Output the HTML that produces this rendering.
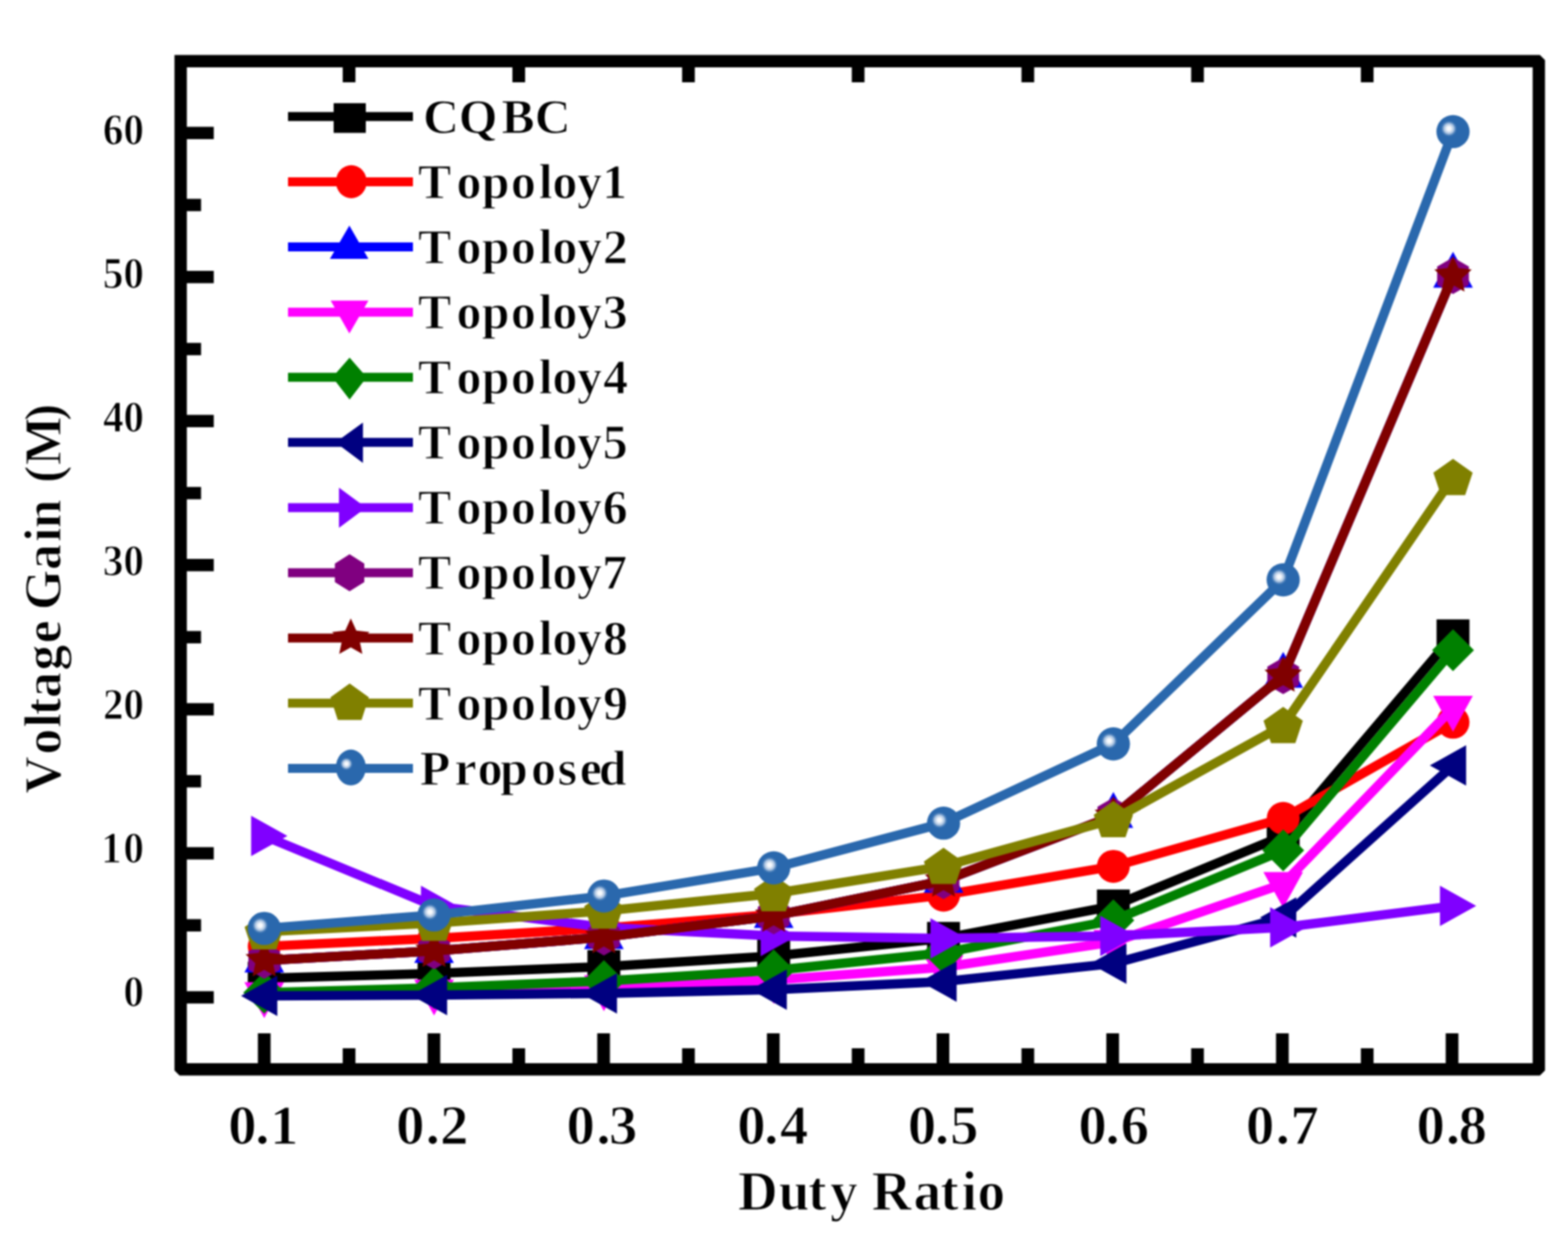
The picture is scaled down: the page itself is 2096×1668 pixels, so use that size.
<!DOCTYPE html>
<html><head><meta charset="utf-8"><title>Voltage Gain vs Duty Ratio</title>
<style>html,body{margin:0;padding:0;background:#fff;overflow:hidden;} svg{display:block;} #w{filter:blur(0.8px);width:2096px;height:1668px;} text{font-kerning:none;}</style>
</head><body>
<div id="w"><svg width="2096" height="1668" viewBox="0 0 2096 1668">
<defs><radialGradient id="hl"><stop offset="0" stop-color="#ffffff"/><stop offset="0.25" stop-color="#f2f6fb"/><stop offset="0.6" stop-color="#b9cde6" stop-opacity="0.85"/><stop offset="1" stop-color="#2A68AD" stop-opacity="0"/></radialGradient></defs>
<rect width="2096" height="1668" fill="#fff"/>
<polyline points="353.2,1307.43 580.21,1301.11 807.23,1291.9 1034.24,1277.71 1261.26,1254.18 1488.27,1210.86 1715.29,1117.26 1942.3,849.82" fill="none" stroke="#000000" stroke-width="12.5" stroke-linejoin="round"/>
<rect x="331.2" y="1285.43" width="44" height="44" fill="#000000"/>
<rect x="558.21" y="1279.11" width="44" height="44" fill="#000000"/>
<rect x="785.23" y="1269.9" width="44" height="44" fill="#000000"/>
<rect x="1012.24" y="1255.71" width="44" height="44" fill="#000000"/>
<rect x="1239.26" y="1232.18" width="44" height="44" fill="#000000"/>
<rect x="1466.27" y="1188.86" width="44" height="44" fill="#000000"/>
<rect x="1693.29" y="1095.26" width="44" height="44" fill="#000000"/>
<rect x="1920.3" y="827.82" width="44" height="44" fill="#000000"/>
<polyline points="353.2,1264.88 580.21,1254.18 807.23,1240.43 1034.24,1222.09 1261.26,1196.41 1488.27,1157.9 1715.29,1093.72 1942.3,965.36" fill="none" stroke="#FF0000" stroke-width="12.5" stroke-linejoin="round"/>
<circle cx="353.2" cy="1264.88" r="22" fill="#FF0000"/>
<circle cx="580.21" cy="1254.18" r="22" fill="#FF0000"/>
<circle cx="807.23" cy="1240.43" r="22" fill="#FF0000"/>
<circle cx="1034.24" cy="1222.09" r="22" fill="#FF0000"/>
<circle cx="1261.26" cy="1196.41" r="22" fill="#FF0000"/>
<circle cx="1488.27" cy="1157.9" r="22" fill="#FF0000"/>
<circle cx="1715.29" cy="1093.72" r="22" fill="#FF0000"/>
<circle cx="1942.3" cy="965.36" r="22" fill="#FF0000"/>
<polyline points="353.2,1283.66 580.21,1271.03 807.23,1252.61 1034.24,1224.23 1261.26,1177.16 1488.27,1090.51 1715.29,903.31 1942.3,368.45" fill="none" stroke="#0000FF" stroke-width="12.5" stroke-linejoin="round"/>
<polygon points="353.2,1251.66 379.7,1299.66 326.7,1299.66" fill="#0000FF"/>
<polygon points="580.21,1239.03 606.71,1287.03 553.71,1287.03" fill="#0000FF"/>
<polygon points="807.23,1220.61 833.73,1268.61 780.73,1268.61" fill="#0000FF"/>
<polygon points="1034.24,1192.23 1060.74,1240.23 1007.74,1240.23" fill="#0000FF"/>
<polygon points="1261.26,1145.16 1287.76,1193.16 1234.76,1193.16" fill="#0000FF"/>
<polygon points="1488.27,1058.51 1514.77,1106.51 1461.77,1106.51" fill="#0000FF"/>
<polygon points="1715.29,871.31 1741.79,919.31 1688.79,919.31" fill="#0000FF"/>
<polygon points="1942.3,336.45 1968.8,384.45 1915.8,384.45" fill="#0000FF"/>
<polyline points="353.2,1328.82 580.21,1325.18 807.23,1319.41 1034.24,1309.81 1261.26,1292.69 1488.27,1258.99 1715.29,1181.44 1942.3,946.1" fill="none" stroke="#FF00FF" stroke-width="12.5" stroke-linejoin="round"/>
<polygon points="353.2,1360.82 379.7,1312.82 326.7,1312.82" fill="#FF00FF"/>
<polygon points="580.21,1357.18 606.71,1309.18 553.71,1309.18" fill="#FF00FF"/>
<polygon points="807.23,1351.41 833.73,1303.41 780.73,1303.41" fill="#FF00FF"/>
<polygon points="1034.24,1341.81 1060.74,1293.81 1007.74,1293.81" fill="#FF00FF"/>
<polygon points="1261.26,1324.69 1287.76,1276.69 1234.76,1276.69" fill="#FF00FF"/>
<polygon points="1488.27,1290.99 1514.77,1242.99 1461.77,1242.99" fill="#FF00FF"/>
<polygon points="1715.29,1213.44 1741.79,1165.44 1688.79,1165.44" fill="#FF00FF"/>
<polygon points="1942.3,978.1 1968.8,930.1 1915.8,930.1" fill="#FF00FF"/>
<polyline points="353.2,1326.68 580.21,1320.37 807.23,1311.16 1034.24,1296.97 1261.26,1273.43 1488.27,1230.11 1715.29,1136.51 1942.3,869.08" fill="none" stroke="#008000" stroke-width="12.5" stroke-linejoin="round"/>
<polygon points="353.2,1298.68 381.2,1326.68 353.2,1354.68 325.2,1326.68" fill="#008000"/>
<polygon points="580.21,1292.37 608.21,1320.37 580.21,1348.37 552.21,1320.37" fill="#008000"/>
<polygon points="807.23,1283.16 835.23,1311.16 807.23,1339.16 779.23,1311.16" fill="#008000"/>
<polygon points="1034.24,1268.97 1062.24,1296.97 1034.24,1324.97 1006.24,1296.97" fill="#008000"/>
<polygon points="1261.26,1245.43 1289.26,1273.43 1261.26,1301.43 1233.26,1273.43" fill="#008000"/>
<polygon points="1488.27,1202.11 1516.27,1230.11 1488.27,1258.11 1460.27,1230.11" fill="#008000"/>
<polygon points="1715.29,1108.51 1743.29,1136.51 1715.29,1164.51 1687.29,1136.51" fill="#008000"/>
<polygon points="1942.3,841.08 1970.3,869.08 1942.3,897.08 1914.3,869.08" fill="#008000"/>
<polyline points="353.2,1330.96 580.21,1330 807.23,1327.66 1034.24,1322.64 1261.26,1311.94 1488.27,1287.88 1715.29,1226.37 1942.3,1023.12" fill="none" stroke="#000080" stroke-width="12.5" stroke-linejoin="round"/>
<polygon points="322.2,1330.96 370.7,1303.96 370.7,1357.96" fill="#000080"/>
<polygon points="549.21,1330 597.71,1303 597.71,1357" fill="#000080"/>
<polygon points="776.23,1327.66 824.73,1300.66 824.73,1354.66" fill="#000080"/>
<polygon points="1003.24,1322.64 1051.74,1295.64 1051.74,1349.64" fill="#000080"/>
<polygon points="1230.26,1311.94 1278.76,1284.94 1278.76,1338.94" fill="#000080"/>
<polygon points="1457.27,1287.88 1505.77,1260.88 1505.77,1314.88" fill="#000080"/>
<polygon points="1684.29,1226.37 1732.79,1199.37 1732.79,1253.37" fill="#000080"/>
<polygon points="1911.3,1023.12 1959.8,996.12 1959.8,1050.12" fill="#000080"/>
<polyline points="353.2,1117.26 580.21,1210.86 807.23,1239.51 1034.24,1250.97 1261.26,1254.18 1488.27,1250.97 1715.29,1239.51 1942.3,1210.86" fill="none" stroke="#8000FF" stroke-width="12.5" stroke-linejoin="round"/>
<polygon points="384.2,1117.26 335.7,1090.26 335.7,1144.26" fill="#8000FF"/>
<polygon points="611.21,1210.86 562.71,1183.86 562.71,1237.86" fill="#8000FF"/>
<polygon points="838.23,1239.51 789.73,1212.51 789.73,1266.51" fill="#8000FF"/>
<polygon points="1065.24,1250.97 1016.74,1223.97 1016.74,1277.97" fill="#8000FF"/>
<polygon points="1292.26,1254.18 1243.76,1227.18 1243.76,1281.18" fill="#8000FF"/>
<polygon points="1519.27,1250.97 1470.77,1223.97 1470.77,1277.97" fill="#8000FF"/>
<polygon points="1746.29,1239.51 1697.79,1212.51 1697.79,1266.51" fill="#8000FF"/>
<polygon points="1973.3,1210.86 1924.8,1183.86 1924.8,1237.86" fill="#8000FF"/>
<polyline points="353.2,1283.66 580.21,1271.03 807.23,1252.61 1034.24,1224.23 1261.26,1177.16 1488.27,1090.51 1715.29,903.31 1942.3,368.45" fill="none" stroke="#800080" stroke-width="12.5" stroke-linejoin="round"/>
<polygon points="353.2,1259.16 374.42,1271.41 374.42,1295.91 353.2,1308.16 331.98,1295.91 331.98,1271.41" fill="#800080"/>
<polygon points="580.21,1246.53 601.43,1258.78 601.43,1283.28 580.21,1295.53 559,1283.28 559,1258.78" fill="#800080"/>
<polygon points="807.23,1228.11 828.45,1240.36 828.45,1264.86 807.23,1277.11 786.01,1264.86 786.01,1240.36" fill="#800080"/>
<polygon points="1034.24,1199.73 1055.46,1211.98 1055.46,1236.48 1034.24,1248.73 1013.03,1236.48 1013.03,1211.98" fill="#800080"/>
<polygon points="1261.26,1152.66 1282.47,1164.91 1282.47,1189.41 1261.26,1201.66 1240.04,1189.41 1240.04,1164.91" fill="#800080"/>
<polygon points="1488.27,1066.01 1509.49,1078.26 1509.49,1102.76 1488.27,1115.01 1467.05,1102.76 1467.05,1078.26" fill="#800080"/>
<polygon points="1715.29,878.81 1736.5,891.06 1736.5,915.56 1715.29,927.81 1694.07,915.56 1694.07,891.06" fill="#800080"/>
<polygon points="1942.3,343.95 1963.52,356.2 1963.52,380.7 1942.3,392.95 1921.08,380.7 1921.08,356.2" fill="#800080"/>
<polyline points="353.2,1283.66 580.21,1271.03 807.23,1252.61 1034.24,1224.23 1261.26,1177.16 1488.27,1090.51 1715.29,903.31 1942.3,368.45" fill="none" stroke="#800000" stroke-width="12.5" stroke-linejoin="round"/>
<polygon points="353.2,1257.36 360.55,1273.54 378.21,1275.53 365.09,1287.52 368.66,1304.93 353.2,1296.16 337.74,1304.93 341.31,1287.52 328.19,1275.53 345.85,1273.54" fill="#800000"/>
<polygon points="580.21,1244.73 587.56,1260.92 605.23,1262.9 592.1,1274.89 595.67,1292.31 580.21,1283.53 564.76,1292.31 568.33,1274.89 555.2,1262.9 572.87,1260.92" fill="#800000"/>
<polygon points="807.23,1226.31 814.58,1242.5 832.24,1244.48 819.12,1256.47 822.69,1273.89 807.23,1265.11 791.77,1273.89 795.34,1256.47 782.22,1244.48 799.88,1242.5" fill="#800000"/>
<polygon points="1034.24,1197.93 1041.59,1214.12 1059.26,1216.1 1046.13,1228.09 1049.7,1245.5 1034.24,1236.73 1018.78,1245.5 1022.35,1228.09 1009.23,1216.1 1026.9,1214.12" fill="#800000"/>
<polygon points="1261.26,1150.86 1268.6,1167.05 1286.27,1169.03 1273.15,1181.02 1276.72,1198.44 1261.26,1189.66 1245.8,1198.44 1249.37,1181.02 1236.24,1169.03 1253.91,1167.05" fill="#800000"/>
<polygon points="1488.27,1064.21 1495.62,1080.4 1513.28,1082.39 1500.16,1094.38 1503.73,1111.79 1488.27,1103.01 1472.81,1111.79 1476.38,1094.38 1463.26,1082.39 1480.92,1080.4" fill="#800000"/>
<polygon points="1715.29,877.01 1722.63,893.2 1740.3,895.18 1727.17,907.17 1730.74,924.59 1715.29,915.81 1699.83,924.59 1703.4,907.17 1690.27,895.18 1707.94,893.2" fill="#800000"/>
<polygon points="1942.3,342.15 1949.65,358.34 1967.31,360.32 1954.19,372.31 1957.76,389.73 1942.3,380.95 1926.84,389.73 1930.41,372.31 1917.29,360.32 1934.95,358.34" fill="#800000"/>
<polyline points="353.2,1245.38 580.21,1233.72 807.23,1217.63 1034.24,1194.28 1261.26,1157.9 1488.27,1095.33 1715.29,969.63 1942.3,638.02" fill="none" stroke="#808000" stroke-width="12.5" stroke-linejoin="round"/>
<polygon points="353.2,1220.58 379.45,1239.1 369.43,1269.07 336.97,1269.07 326.95,1239.1" fill="#808000"/>
<polygon points="580.21,1208.92 606.47,1227.44 596.44,1257.4 563.99,1257.4 553.96,1227.44" fill="#808000"/>
<polygon points="807.23,1192.83 833.48,1211.35 823.45,1241.32 791,1241.32 780.98,1211.35" fill="#808000"/>
<polygon points="1034.24,1169.48 1060.5,1187.99 1050.47,1217.96 1018.02,1217.96 1007.99,1187.99" fill="#808000"/>
<polygon points="1261.26,1133.11 1287.51,1151.62 1277.48,1181.59 1245.03,1181.59 1235,1151.62" fill="#808000"/>
<polygon points="1488.27,1070.53 1514.52,1089.04 1504.5,1119.01 1472.05,1119.01 1462.02,1089.04" fill="#808000"/>
<polygon points="1715.29,944.83 1741.54,963.35 1731.51,993.32 1699.06,993.32 1689.03,963.35" fill="#808000"/>
<polygon points="1942.3,613.22 1968.55,631.74 1958.53,661.7 1926.07,661.7 1916.05,631.74" fill="#808000"/>
<polyline points="353.2,1240.87 580.21,1222.89 807.23,1197.59 1034.24,1160.04 1261.26,1100.14 1488.27,994.24 1715.29,774.94 1942.3,175.9" fill="none" stroke="#2A68AD" stroke-width="12.5" stroke-linejoin="round"/>
<circle cx="353.2" cy="1240.87" r="22.2" fill="#2A68AD"/><circle cx="347.7" cy="1236.87" r="11.5" fill="url(#hl)"/>
<circle cx="580.21" cy="1222.89" r="22.2" fill="#2A68AD"/><circle cx="574.71" cy="1218.89" r="11.5" fill="url(#hl)"/>
<circle cx="807.23" cy="1197.59" r="22.2" fill="#2A68AD"/><circle cx="801.73" cy="1193.59" r="11.5" fill="url(#hl)"/>
<circle cx="1034.24" cy="1160.04" r="22.2" fill="#2A68AD"/><circle cx="1028.74" cy="1156.04" r="11.5" fill="url(#hl)"/>
<circle cx="1261.26" cy="1100.14" r="22.2" fill="#2A68AD"/><circle cx="1255.76" cy="1096.14" r="11.5" fill="url(#hl)"/>
<circle cx="1488.27" cy="994.24" r="22.2" fill="#2A68AD"/><circle cx="1482.77" cy="990.24" r="11.5" fill="url(#hl)"/>
<circle cx="1715.29" cy="774.94" r="22.2" fill="#2A68AD"/><circle cx="1709.79" cy="770.94" r="11.5" fill="url(#hl)"/>
<circle cx="1942.3" cy="175.9" r="22.2" fill="#2A68AD"/><circle cx="1936.8" cy="171.9" r="11.5" fill="url(#hl)"/>
<path fill-rule="evenodd" fill="#000" d="M233.25 73.5H2058.45L2065.25 80.3V1430.75L2058.45 1437.55H240.05L233.25 1430.75Z M249.75 90V1421.05H2048.75V90Z"/>
<line x1="248.75" y1="1333" x2="285.75" y2="1333" stroke="#000" stroke-width="16.5"/>
<line x1="248.75" y1="1236.72" x2="268.75" y2="1236.72" stroke="#000" stroke-width="16.5"/>
<line x1="248.75" y1="1140.45" x2="285.75" y2="1140.45" stroke="#000" stroke-width="16.5"/>
<line x1="248.75" y1="1044.17" x2="268.75" y2="1044.17" stroke="#000" stroke-width="16.5"/>
<line x1="248.75" y1="947.9" x2="285.75" y2="947.9" stroke="#000" stroke-width="16.5"/>
<line x1="248.75" y1="851.62" x2="268.75" y2="851.62" stroke="#000" stroke-width="16.5"/>
<line x1="248.75" y1="755.35" x2="285.75" y2="755.35" stroke="#000" stroke-width="16.5"/>
<line x1="248.75" y1="659.08" x2="268.75" y2="659.08" stroke="#000" stroke-width="16.5"/>
<line x1="248.75" y1="562.8" x2="285.75" y2="562.8" stroke="#000" stroke-width="16.5"/>
<line x1="248.75" y1="466.53" x2="268.75" y2="466.53" stroke="#000" stroke-width="16.5"/>
<line x1="248.75" y1="370.25" x2="285.75" y2="370.25" stroke="#000" stroke-width="16.5"/>
<line x1="248.75" y1="273.98" x2="268.75" y2="273.98" stroke="#000" stroke-width="16.5"/>
<line x1="248.75" y1="177.7" x2="285.75" y2="177.7" stroke="#000" stroke-width="16.5"/>
<line x1="353.2" y1="1422.05" x2="353.2" y2="1381.05" stroke="#000" stroke-width="17"/>
<line x1="466.62" y1="1422.05" x2="466.62" y2="1401.05" stroke="#000" stroke-width="17"/>
<line x1="466.62" y1="89" x2="466.62" y2="110" stroke="#000" stroke-width="17"/>
<line x1="580.03" y1="1422.05" x2="580.03" y2="1381.05" stroke="#000" stroke-width="17"/>
<line x1="693.44" y1="1422.05" x2="693.44" y2="1401.05" stroke="#000" stroke-width="17"/>
<line x1="693.44" y1="89" x2="693.44" y2="110" stroke="#000" stroke-width="17"/>
<line x1="806.86" y1="1422.05" x2="806.86" y2="1381.05" stroke="#000" stroke-width="17"/>
<line x1="920.27" y1="1422.05" x2="920.27" y2="1401.05" stroke="#000" stroke-width="17"/>
<line x1="920.27" y1="89" x2="920.27" y2="110" stroke="#000" stroke-width="17"/>
<line x1="1033.69" y1="1422.05" x2="1033.69" y2="1381.05" stroke="#000" stroke-width="17"/>
<line x1="1147.11" y1="1422.05" x2="1147.11" y2="1401.05" stroke="#000" stroke-width="17"/>
<line x1="1147.11" y1="89" x2="1147.11" y2="110" stroke="#000" stroke-width="17"/>
<line x1="1260.52" y1="1422.05" x2="1260.52" y2="1381.05" stroke="#000" stroke-width="17"/>
<line x1="1373.94" y1="1422.05" x2="1373.94" y2="1401.05" stroke="#000" stroke-width="17"/>
<line x1="1373.94" y1="89" x2="1373.94" y2="110" stroke="#000" stroke-width="17"/>
<line x1="1487.35" y1="1422.05" x2="1487.35" y2="1381.05" stroke="#000" stroke-width="17"/>
<line x1="1600.77" y1="1422.05" x2="1600.77" y2="1401.05" stroke="#000" stroke-width="17"/>
<line x1="1600.77" y1="89" x2="1600.77" y2="110" stroke="#000" stroke-width="17"/>
<line x1="1714.18" y1="1422.05" x2="1714.18" y2="1381.05" stroke="#000" stroke-width="17"/>
<line x1="1827.6" y1="1422.05" x2="1827.6" y2="1401.05" stroke="#000" stroke-width="17"/>
<line x1="1827.6" y1="89" x2="1827.6" y2="110" stroke="#000" stroke-width="17"/>
<line x1="1941.01" y1="1422.05" x2="1941.01" y2="1381.05" stroke="#000" stroke-width="17"/>
<text x="177.51" y="1344.62" font-family="Liberation Serif, Times New Roman, serif" font-weight="bold" stroke="#fff" stroke-width="1.2" font-size="59" transform="scale(0.93 1)">0</text>
<text x="145.49 177.51" y="1152.67" font-family="Liberation Serif, Times New Roman, serif" font-weight="bold" stroke="#fff" stroke-width="1.2" font-size="59" transform="scale(0.93 1)">10</text>
<text x="148.07 177.51" y="960.72" font-family="Liberation Serif, Times New Roman, serif" font-weight="bold" stroke="#fff" stroke-width="1.2" font-size="59" transform="scale(0.93 1)">20</text>
<text x="147.94 177.51" y="768.77" font-family="Liberation Serif, Times New Roman, serif" font-weight="bold" stroke="#fff" stroke-width="1.2" font-size="59" transform="scale(0.93 1)">30</text>
<text x="148.19 177.51" y="576.82" font-family="Liberation Serif, Times New Roman, serif" font-weight="bold" stroke="#fff" stroke-width="1.2" font-size="59" transform="scale(0.93 1)">40</text>
<text x="147.94 177.51" y="384.87" font-family="Liberation Serif, Times New Roman, serif" font-weight="bold" stroke="#fff" stroke-width="1.2" font-size="59" transform="scale(0.93 1)">50</text>
<text x="147.9 177.51" y="192.92" font-family="Liberation Serif, Times New Roman, serif" font-weight="bold" stroke="#fff" stroke-width="1.2" font-size="59" transform="scale(0.93 1)">60</text>
<text x="293.29 328.09 347.06" y="1529.3" font-family="Liberation Serif, Times New Roman, serif" font-weight="bold" stroke="#fff" stroke-width="1.2" font-size="73" transform="scale(1.04 1)">0.1</text>
<text x="509.15 547.22 565.73" y="1529.3" font-family="Liberation Serif, Times New Roman, serif" font-weight="bold" stroke="#fff" stroke-width="1.2" font-size="73" transform="scale(1.04 1)">0.2</text>
<text x="728.19 766.64 782.68" y="1529.3" font-family="Liberation Serif, Times New Roman, serif" font-weight="bold" stroke="#fff" stroke-width="1.2" font-size="73" transform="scale(1.04 1)">0.3</text>
<text x="947.71 982.22 1002.51" y="1529.3" font-family="Liberation Serif, Times New Roman, serif" font-weight="bold" stroke="#fff" stroke-width="1.2" font-size="73" transform="scale(1.04 1)">0.4</text>
<text x="1166.94 1201.74 1221.05" y="1529.3" font-family="Liberation Serif, Times New Roman, serif" font-weight="bold" stroke="#fff" stroke-width="1.2" font-size="73" transform="scale(1.04 1)">0.5</text>
<text x="1386.08 1420.88 1440.51" y="1529.3" font-family="Liberation Serif, Times New Roman, serif" font-weight="bold" stroke="#fff" stroke-width="1.2" font-size="73" transform="scale(1.04 1)">0.6</text>
<text x="1601.56 1639.72 1658.63" y="1529.3" font-family="Liberation Serif, Times New Roman, serif" font-weight="bold" stroke="#fff" stroke-width="1.2" font-size="73" transform="scale(1.04 1)">0.7</text>
<text x="1820.69 1858.38 1874.73" y="1529.3" font-family="Liberation Serif, Times New Roman, serif" font-weight="bold" stroke="#fff" stroke-width="1.2" font-size="73" transform="scale(1.04 1)">0.8</text>
<line x1="385" y1="155.8" x2="552" y2="155.8" stroke="#000000" stroke-width="12"/>
<rect x="446" y="137.9" width="43" height="39.7" fill="#000000"/>
<text x="565.5 613.22 670.2 714.8" y="177.7" font-family="Liberation Serif, Times New Roman, serif" font-weight="bold" stroke="#fff" stroke-width="1.2" font-size="66.5">CQBC</text>
<line x1="385" y1="242.91" x2="552" y2="242.91" stroke="#FF0000" stroke-width="12"/>
<ellipse cx="469.6" cy="242.91" rx="20.6" ry="22.1" fill="#FF0000"/>
<text x="558.76 610.33 643.93 682.98 720.33 738.62 771.48 805.03" y="264.81" font-family="Liberation Serif, Times New Roman, serif" font-weight="bold" stroke="#fff" stroke-width="1.2" font-size="66.5">Topoloy1</text>
<line x1="385" y1="330.02" x2="552" y2="330.02" stroke="#0000FF" stroke-width="12"/>
<polygon points="467,301.42 492.5,346.12 441,346.12" fill="#0000FF"/>
<text x="558.76 610.33 643.93 682.98 720.33 738.62 771.48 806.01" y="351.92" font-family="Liberation Serif, Times New Roman, serif" font-weight="bold" stroke="#fff" stroke-width="1.2" font-size="66.5">Topoloy2</text>
<line x1="385" y1="417.13" x2="552" y2="417.13" stroke="#FF00FF" stroke-width="12"/>
<polygon points="467,445.83 492.5,401.63 442,401.63" fill="#FF00FF"/>
<text x="558.76 610.33 643.93 682.98 720.33 738.62 771.48 805.86" y="439.03" font-family="Liberation Serif, Times New Roman, serif" font-weight="bold" stroke="#fff" stroke-width="1.2" font-size="66.5">Topoloy3</text>
<line x1="385" y1="504.24" x2="552" y2="504.24" stroke="#008000" stroke-width="12"/>
<polygon points="467.3,477.94 490.2,504.24 467.3,534.04 444.4,504.24" fill="#008000"/>
<text x="558.76 610.33 643.93 682.98 720.33 738.62 771.48 806.14" y="526.14" font-family="Liberation Serif, Times New Roman, serif" font-weight="bold" stroke="#fff" stroke-width="1.2" font-size="66.5">Topoloy4</text>
<line x1="385" y1="591.35" x2="552" y2="591.35" stroke="#000080" stroke-width="12"/>
<polygon points="448.5,591.35 485.2,564.85 485.2,618.85" fill="#000080"/>
<text x="558.76 610.33 643.93 682.98 720.33 738.62 771.48 805.86" y="613.25" font-family="Liberation Serif, Times New Roman, serif" font-weight="bold" stroke="#fff" stroke-width="1.2" font-size="66.5">Topoloy5</text>
<line x1="385" y1="678.46" x2="552" y2="678.46" stroke="#8000FF" stroke-width="12"/>
<polygon points="489.3,678.46 453.1,651.86 453.1,705.46" fill="#8000FF"/>
<text x="558.76 610.33 643.93 682.98 720.33 738.62 771.48 805.81" y="700.36" font-family="Liberation Serif, Times New Roman, serif" font-weight="bold" stroke="#fff" stroke-width="1.2" font-size="66.5">Topoloy6</text>
<line x1="385" y1="765.57" x2="552" y2="765.57" stroke="#800080" stroke-width="12"/>
<polygon points="467.3,740.87 486.98,753.22 486.98,777.92 467.3,790.27 447.62,777.92 447.62,753.22" fill="#800080"/>
<text x="558.76 610.33 643.93 682.98 720.33 738.62 771.48 804.89" y="787.47" font-family="Liberation Serif, Times New Roman, serif" font-weight="bold" stroke="#fff" stroke-width="1.2" font-size="66.5">Topoloy7</text>
<line x1="385" y1="852.68" x2="552" y2="852.68" stroke="#800000" stroke-width="12"/>
<polygon points="468.9,826.48 476.25,842.67 493.91,844.65 480.79,856.64 484.36,874.06 468.9,865.28 453.44,874.06 457.01,856.64 443.89,844.65 461.55,842.67" fill="#800000"/>
<text x="558.76 610.33 643.93 682.98 720.33 738.62 771.48 805.98" y="874.58" font-family="Liberation Serif, Times New Roman, serif" font-weight="bold" stroke="#fff" stroke-width="1.2" font-size="66.5">Topoloy8</text>
<line x1="385" y1="939.79" x2="552" y2="939.79" stroke="#808000" stroke-width="12"/>
<polygon points="467.4,913.39 493.08,932.05 483.27,962.23 451.53,962.23 441.72,932.05" fill="#808000"/>
<text x="558.76 610.33 643.93 682.98 720.33 738.62 771.48 806.27" y="961.69" font-family="Liberation Serif, Times New Roman, serif" font-weight="bold" stroke="#fff" stroke-width="1.2" font-size="66.5">Topoloy9</text>
<line x1="385" y1="1026.9" x2="552" y2="1026.9" stroke="#2A68AD" stroke-width="12"/>
<ellipse cx="469" cy="1025.8" rx="20" ry="24" fill="#2A68AD"/><circle cx="463" cy="1020.9" r="9" fill="url(#hl)"/>
<text x="561.36 607.56 638.38 668.43 709.88 745.57 775.07 800.53" y="1048.8" font-family="Liberation Serif, Times New Roman, serif" font-weight="bold" stroke="#fff" stroke-width="1.2" font-size="66.5">Proposed</text>
<text x="986.61 1041.09 1080.33 1109.83 0 1165.21 1221.2 1257.03 1285.52 1306.83" y="1616.8" font-family="Liberation Serif, Times New Roman, serif" font-weight="bold" stroke="#fff" stroke-width="1.2" font-size="73.5">Duty Ratio</text>
<text transform="translate(80.8 1064.0) rotate(-90)" x="3.39 55.55 91.53 108.31 131.16 167.88 204.3 1064 248.72 302.36 339.86 358.01 1064 418.61 442.24 501.62" y="0" font-family="Liberation Serif, Times New Roman, serif" font-weight="bold" stroke="#fff" stroke-width="1.2" font-size="69">Voltage Gain (M)</text>
</svg></div>
</body></html>
